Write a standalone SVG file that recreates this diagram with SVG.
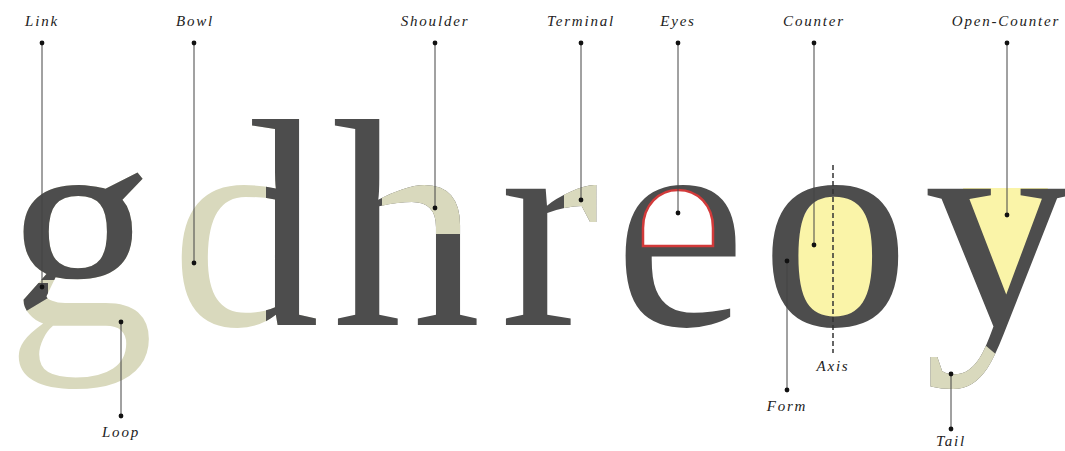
<svg xmlns="http://www.w3.org/2000/svg" width="1065" height="451" viewBox="0 0 1065 451">
<style>
.big{font-family:"Liberation Serif","Times New Roman",serif;font-size:297px}
.dk{fill:#4d4d4d}
.bg{fill:#d9d9bd}
.lbl{font-family:"Liberation Serif","Times New Roman",serif;font-style:italic;font-size:15px;letter-spacing:1.8px;fill:#222;text-anchor:middle}
.ln{stroke:#444;stroke-width:1;fill:none;marker-start:url(#dot);marker-end:url(#dot)}
</style>
<defs>
<marker id="dot" markerUnits="userSpaceOnUse" markerWidth="6" markerHeight="6" refX="3" refY="3"><circle cx="3" cy="3" r="2.4" fill="#111"/></marker>
<clipPath id="cg"><rect x="0" y="100" width="170" height="180"/><polygon points="18,283 48,283 48,298 18,316"/></clipPath>
<clipPath id="cd"><rect x="240" y="100" width="160" height="78"/><rect x="266" y="178" width="100" height="200"/></clipPath>
<clipPath id="ch"><rect x="382" y="170" width="100" height="64"/></clipPath>
<clipPath id="cr"><rect x="564" y="170" width="60" height="55"/></clipPath>
<clipPath id="cy"><polygon points="900,340 985,345 1005,362 1005,451 900,451"/></clipPath>
</defs>
<g id="letters">
<g id="g-letter"><text class="big bg" x="6" y="325">g</text><text class="big dk" x="6" y="325" clip-path="url(#cg)">g</text></g>
<g id="d-letter"><text class="big bg" x="171" y="325">d</text><text class="big dk" x="171" y="325" clip-path="url(#cd)">d</text></g>
<g id="h-letter"><text class="big dk" x="332" y="325">h</text><text class="big bg" x="332" y="325" clip-path="url(#ch)">h</text></g>
<g id="r-letter"><text class="big dk" x="500" y="325">r</text><text class="big bg" x="500" y="325" clip-path="url(#cr)">r</text></g>
<g id="e-letter"><text class="big dk" x="614" y="325">e</text><path d="M643,246 L643,228 C643,205 659,190 678,190 C698,190 713,205 713,228 L713,246 Z" fill="#fff" stroke="#d23a3a" stroke-width="2.5"/></g>
<g id="o-letter"><ellipse cx="836" cy="258" rx="42" ry="66" fill="#faf4a8"/><text class="big dk" x="761" y="325">o</text></g>
<g id="y-letter"><polygon points="963,188 1048,188 1004,308" fill="#faf4a8"/><text class="big dk" x="924" y="325">y</text><text class="big bg" x="924" y="325" clip-path="url(#cy)">y</text></g>
</g>
<g id="connectors">
<line class="ln" x1="42" y1="43" x2="42" y2="287"/>
<line class="ln" x1="194" y1="43" x2="194" y2="263"/>
<line class="ln" x1="435" y1="43" x2="435" y2="208"/>
<line class="ln" x1="581" y1="43" x2="581" y2="200"/>
<line class="ln" x1="678" y1="43" x2="678" y2="213"/>
<line class="ln" x1="814" y1="43" x2="814" y2="245"/>
<line class="ln" x1="1007" y1="43" x2="1007" y2="215"/>
<line class="ln" x1="121" y1="322" x2="121" y2="416"/>
<line class="ln" x1="787" y1="261" x2="787" y2="390"/>
<line class="ln" x1="951" y1="374" x2="951" y2="429"/>
<line x1="833" y1="165" x2="833" y2="353" stroke="#333" stroke-width="1.5" stroke-dasharray="5 3"/>
</g>
<g id="labels">
<text class="lbl" x="42" y="26">Link</text>
<text class="lbl" x="195" y="26">Bowl</text>
<text class="lbl" x="435" y="26">Shoulder</text>
<text class="lbl" x="581" y="26">Terminal</text>
<text class="lbl" x="678" y="26">Eyes</text>
<text class="lbl" x="814" y="26">Counter</text>
<text class="lbl" x="1006" y="26">Open-Counter</text>
<text class="lbl" x="121" y="437">Loop</text>
<text class="lbl" x="787" y="411">Form</text>
<text class="lbl" x="833" y="371">Axis</text>
<text class="lbl" x="951" y="446">Tail</text>
</g>
</svg>
